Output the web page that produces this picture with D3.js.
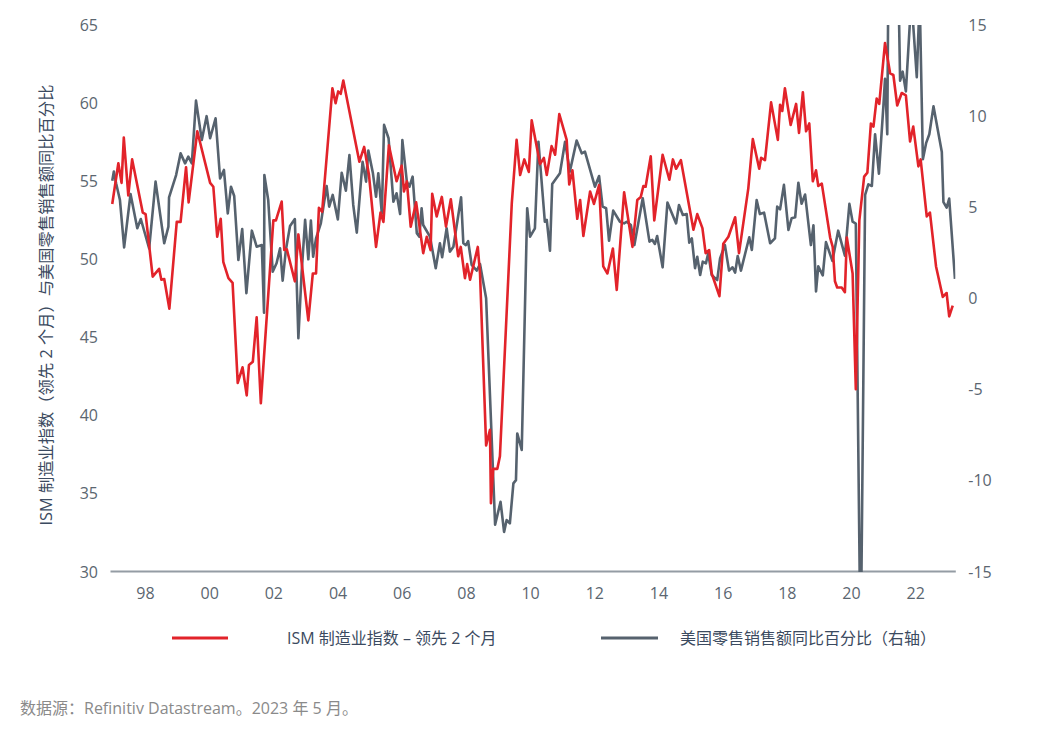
<!DOCTYPE html>
<html><head><meta charset="utf-8">
<script src="https://cdn.jsdelivr.net/npm/d3@7/dist/d3.min.js"></script>
<style>body{margin:0;background:#fff}svg{display:block}</style>
</head><body><svg id="c" width="1048" height="736"></svg>
<script>
// ISM manufacturing index (2-month lead) - time (decimal year) and value
const ismT=[1996.98,1997.17,1997.27,1997.34,1997.48,1997.60,1997.93,1998.02,1998.24,1998.44,1998.51,1998.60,1998.76,1998.99,1999.11,1999.28,1999.36,1999.63,2000.03,2000.13,2000.25,2000.36,2000.44,2000.60,2000.73,2000.89,2001.04,2001.17,2001.24,2001.36,2001.48,2001.61,2002.00,2002.08,2002.26,2002.34,2002.42,2002.67,2002.78,2003.09,2003.23,2003.33,2003.42,2003.52,2003.84,2003.94,2004.02,2004.10,2004.18,2004.68,2004.83,2004.98,2005.20,2005.34,2005.43,2005.60,2005.84,2006.00,2006.07,2006.16,2006.28,2006.45,2006.67,2006.78,2006.90,2006.95,2007.09,2007.25,2007.38,2007.53,2007.76,2007.84,2007.97,2008.04,2008.13,2008.37,2008.44,2008.63,2008.75,2008.78,2008.85,2008.98,2009.06,2009.43,2009.58,2009.69,2009.82,2009.96,2010.05,2010.31,2010.43,2010.52,2010.67,2010.78,2010.91,2011.14,2011.22,2011.32,2011.47,2011.56,2011.66,2011.87,2011.99,2012.15,2012.28,2012.41,2012.58,2012.70,2012.93,2013.19,2013.34,2013.45,2013.53,2013.60,2013.76,2013.87,2014.13,2014.34,2014.45,2014.55,2014.70,2015.09,2015.21,2015.37,2015.47,2015.58,2015.66,2015.90,2016.02,2016.18,2016.39,2016.51,2016.80,2016.94,2017.14,2017.20,2017.32,2017.51,2017.72,2017.79,2017.86,2017.94,2018.12,2018.29,2018.38,2018.50,2018.60,2018.70,2018.81,2018.91,2018.98,2019.09,2019.35,2019.43,2019.50,2019.57,2019.71,2019.81,2019.87,2020.05,2020.15,2020.26,2020.41,2020.51,2020.62,2020.70,2020.80,2020.88,2021.06,2021.22,2021.32,2021.44,2021.58,2021.71,2021.84,2021.94,2022.10,2022.17,2022.36,2022.46,2022.65,2022.86,2022.98,2023.06,2023.17];
const ismV=[53.55,56.15,54.9,57.8,54.1,56.4,53.0,52.9,48.9,49.4,48.7,48.75,46.85,52.4,52.4,55.9,53.65,58.2,54.9,54.65,51.45,52.6,49.85,48.8,48.5,42.1,43.1,41.3,43.25,43.45,46.3,40.8,52.5,52.5,53.7,50.6,50.65,48.6,51.6,46.1,49.1,49.1,53.3,53.05,60.95,60.0,60.75,60.6,61.45,56.25,57.2,55.4,50.8,53.0,52.4,57.3,55.0,56.0,54.35,55.0,52.1,53.65,50.4,51.45,50.6,54.2,52.75,54.0,52.1,53.85,50.2,50.8,48.8,49.7,48.7,50.8,49.1,38.1,39.1,34.4,36.6,36.6,37.4,53.6,57.65,55.4,56.4,55.6,58.9,56.1,56.5,55.4,57.25,56.7,59.3,57.65,54.8,55.7,52.6,53.8,51.5,54.35,53.55,54.75,49.55,49.1,50.7,48.05,54.3,50.8,53.8,54.0,54.7,54.65,56.6,52.5,56.7,55.1,56.4,55.8,56.35,51.9,52.9,52.0,50.4,50.6,49.1,47.65,51.0,51.45,52.7,50.4,54.55,57.7,55.8,56.5,56.35,60.05,57.65,59.9,59.5,60.95,58.6,59.95,58.1,60.7,58.2,58.7,55.0,55.7,54.7,54.85,51.4,50.8,48.6,48.2,48.2,47.9,51.4,49.1,41.7,52.5,55.3,55.55,58.7,58.5,60.3,59.95,63.85,61.9,61.8,59.85,60.65,60.5,57.55,58.5,55.95,56.4,52.75,53.0,49.55,47.6,47.85,46.35,47.05];

// US retail sales, % y/y (right axis)
const retailT=[1996.98,1997.03,1997.10,1997.22,1997.35,1997.55,1997.76,1997.87,1998.13,1998.33,1998.60,1998.73,1998.75,1998.97,1999.11,1999.25,1999.35,1999.46,1999.59,1999.77,1999.92,2000.03,2000.20,2000.34,2000.46,2000.58,2000.68,2000.78,2000.91,2001.03,2001.16,2001.33,2001.48,2001.64,2001.71,2001.72,2001.84,2001.98,2002.10,2002.21,2002.29,2002.39,2002.52,2002.67,2002.78,2002.88,2002.99,2003.09,2003.17,2003.24,2003.33,2003.48,2003.66,2003.74,2003.85,2004.01,2004.13,2004.26,2004.37,2004.49,2004.60,2004.78,2004.89,2004.96,2005.10,2005.20,2005.27,2005.38,2005.45,2005.59,2005.74,2005.84,2005.95,2006.02,2006.16,2006.24,2006.34,2006.47,2006.55,2006.62,2006.67,2006.88,2007.06,2007.19,2007.26,2007.40,2007.50,2007.61,2007.85,2007.92,2008.00,2008.07,2008.18,2008.34,2008.44,2008.63,2008.91,2009.08,2009.19,2009.27,2009.37,2009.48,2009.56,2009.60,2009.74,2009.91,2010.00,2010.15,2010.26,2010.46,2010.52,2010.62,2010.69,2010.93,2011.09,2011.24,2011.45,2011.61,2011.71,2012.02,2012.15,2012.26,2012.37,2012.46,2012.59,2012.80,2012.93,2013.01,2013.14,2013.25,2013.51,2013.72,2013.81,2013.89,2013.96,2014.13,2014.28,2014.55,2014.64,2014.76,2014.88,2014.96,2015.04,2015.14,2015.21,2015.30,2015.38,2015.48,2015.55,2015.66,2015.83,2015.92,2016.07,2016.20,2016.31,2016.39,2016.47,2016.57,2016.83,2016.91,2017.06,2017.16,2017.29,2017.48,2017.63,2017.70,2017.79,2017.91,2018.05,2018.15,2018.26,2018.36,2018.46,2018.57,2018.75,2018.83,2018.91,2018.98,2019.12,2019.22,2019.42,2019.60,2019.81,2019.95,2020.05,2020.15,2020.30,2020.44,2020.54,2020.65,2020.75,2020.87,2021.01,2021.06,2021.13,2021.21,2021.29,2021.37,2021.53,2021.61,2021.71,2021.88,2022.05,2022.14,2022.24,2022.34,2022.44,2022.57,2022.83,2022.88,2022.98,2023.06,2023.24];
const retailV=[6.46,6.96,6.32,5.4,2.8,5.73,3.85,4.36,2.75,6.41,3.03,3.94,5.55,6.77,7.96,7.41,7.78,7.41,10.85,8.69,10.0,8.79,9.88,6.59,7.05,4.67,6.13,5.62,2.11,3.81,0.29,3.72,2.84,2.93,-0.78,6.77,5.4,1.47,1.93,2.75,0.98,2.66,3.98,4.36,-2.18,1.38,4.31,2.15,4.27,2.29,3.3,4.12,6.17,5.04,5.68,4.34,6.9,5.91,7.87,5.13,3.61,7.5,6.41,8.11,6.9,5.58,6.87,4.67,9.52,8.79,5.31,5.77,4.63,8.69,6.41,6.13,6.68,3.58,3.39,4.95,4.03,3.39,1.66,3.03,2.26,3.85,2.57,2.84,5.55,3.03,2.93,3.15,1.84,1.53,1.89,0.01,-12.4,-11.15,-12.8,-12.15,-12.33,-10.14,-9.96,-7.4,-8.31,4.95,3.39,3.85,8.6,4.21,4.31,2.62,6.28,6.87,8.6,6.96,8.66,7.96,8.05,6.13,6.72,5.04,4.95,3.17,4.82,4.21,4.12,4.21,4.03,2.93,5.5,3.12,3.21,2.99,3.43,1.71,5.26,4.12,5.13,4.58,4.63,3.06,3.3,1.66,2.29,1.29,2.02,1.93,2.48,1.29,1.01,2.2,2.93,1.53,1.71,1.42,2.33,1.53,3.36,2.66,5.4,4.63,4.71,3.03,3.3,5.04,4.89,6.23,3.76,4.4,4.45,6.35,5.2,5.7,2.93,4.02,0.39,1.76,1.27,3.09,2.06,3.72,2.35,5.19,4.21,4.11,-19.9,5.68,6.26,6.17,9.01,6.85,10.58,12.05,9.01,29.0,51.0,28.0,11.95,12.44,11.36,16.5,12.14,16.5,7.64,8.52,9.01,10.54,8.03,5.29,4.99,5.48,1.08];

const yearTicks=[1998,2000,2002,2004,2006,2008,2010,2012,2014,2016,2018,2020,2022];
const leftTicks=[30,35,40,45,50,55,60,65];
const rightTicks=[-15,-10,-5,0,5,10,15];

const yTitle="ISM 制造业指数（领先 2 个月）与美国零售销售额同比百分比";
const legendLabels=["ISM 制造业指数 – 领先 2 个月","美国零售销售额同比百分比（右轴）"];
const sourceText="数据源：Refinitiv Datastream。2023 年 5 月。";

const RED="#e2232a", GREY="#56626e", TICK="#5b6670", DARK="#3b4a60";
const FONT="'Open Sans','Noto Sans CJK SC',sans-serif";

const L=110,R=955.3,T=25,B=572;
const svg=d3.select("#c");
const x=d3.scaleLinear().domain([1996.91,2023.25]).range([L,R]);
const yL=d3.scaleLinear().domain([30,65]).range([B,T]);
const yR=d3.scaleLinear().domain([-15,15]).range([B,T]);

svg.append("defs").append("clipPath").attr("id","clip")
  .append("rect").attr("x",L).attr("y",T).attr("width",R-L).attr("height",B-T);

// axes
const xa=svg.append("g").attr("transform",`translate(0,${B-1})`)
  .call(d3.axisBottom(x).tickValues(yearTicks).tickSize(0).tickPadding(17)
  .tickFormat(d=>String(d).slice(2)));
xa.select(".domain").attr("stroke","#949ca4").attr("stroke-width",2);
xa.selectAll("text").attr("fill",TICK).style("font-family",FONT).style("font-size","16px");

const la=svg.append("g").attr("transform",`translate(${L},0)`)
  .call(d3.axisLeft(yL).tickValues(leftTicks).tickSize(0).tickPadding(12).tickFormat(d=>String(d)));
la.select(".domain").remove();
la.selectAll("text").attr("fill",TICK).style("font-family",FONT).style("font-size","16px");

const ra=svg.append("g").attr("transform",`translate(${R},0)`)
  .call(d3.axisRight(yR).tickValues(rightTicks).tickSize(0).tickPadding(13).tickFormat(d=>String(d)));
ra.select(".domain").remove();
ra.selectAll("text").attr("fill",TICK).style("font-family",FONT).style("font-size","16px");

// lines
const g=svg.append("g").attr("clip-path","url(#clip)");
const retail=retailT.map((t,i)=>[t,retailV[i]]);
const ism=ismT.map((t,i)=>[t,ismV[i]]);
g.append("path").datum(retail).attr("fill","none").attr("stroke",GREY).attr("stroke-width",2.6)
  .attr("stroke-linejoin","round")
  .attr("d",d3.line().x(d=>x(d[0])).y(d=>yR(d[1])));
g.append("path").datum(ism).attr("fill","none").attr("stroke",RED).attr("stroke-width",2.6)
  .attr("stroke-linejoin","round")
  .attr("d",d3.line().x(d=>x(d[0])).y(d=>yL(d[1])));

// y title
svg.append("text").attr("transform","translate(52,305) rotate(-90)")
  .attr("text-anchor","middle").attr("fill",DARK)
  .style("font-family",FONT).style("font-size","16.3px").text(yTitle);

// legend
const leg=[{c:RED,x1:172,x2:228,tx:287},{c:GREY,x1:601,x2:658,tx:680}];
leg.forEach((d,i)=>{
  svg.append("line").attr("x1",d.x1).attr("x2",d.x2).attr("y1",638).attr("y2",638)
    .attr("stroke",d.c).attr("stroke-width",3);
  svg.append("text").attr("x",d.tx).attr("y",644).attr("fill",DARK)
    .style("font-family",FONT).style("font-size","16px").text(legendLabels[i]);
});

svg.append("text").attr("x",20).attr("y",714).attr("fill","#8a8a8a")
  .style("font-family",FONT).style("font-size","16px").text(sourceText);
</script></body></html>
